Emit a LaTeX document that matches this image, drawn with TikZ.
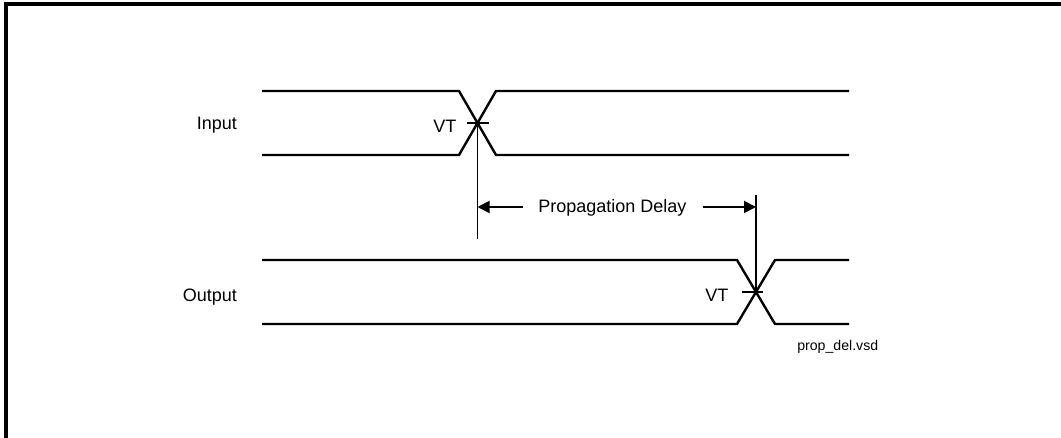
\documentclass[tikz,border=0pt]{standalone}
\usepackage{fontspec}
\setmainfont{Liberation Sans}
\usetikzlibrary{arrows.meta}
\begin{document}
\begin{tikzpicture}[x=0.75pt,y=-0.75pt,
  signal/.style={line width=1.8pt,line join=miter},
  frameline/.style={line width=2.4pt},
  marker/.style={line width=1.4pt},
  dim/.style={line width=1.4pt,-{Triangle[length=9pt,width=9pt]}},
  lbl/.style={inner sep=0pt,anchor=base west,font=\fontsize{13.5}{16}\selectfont},
  small/.style={inner sep=0pt,anchor=base west,font=\fontsize{10.6}{13}\selectfont}]
\useasboundingbox (0,0) rectangle (1061,438);
% frame (left and top edges visible)
\draw[frameline] (6,440) -- (6,4) -- (1063,4);
% Input signal
\coordinate (ic) at (477.5,123);
\draw[signal] (262,91) -- (459,91) -- (496,155) -- (849,155);
\draw[signal] (262,155) -- (459,155) -- (496,91) -- (849,91);
% Output signal
\coordinate (oc) at (756,292);
\draw[signal] (262,260) -- (737,260) -- (775,324) -- (849,324);
\draw[signal] (262,324) -- (737,324) -- (775,260) -- (849,260);
% VT ticks
\coordinate (it1) at (467,123); \coordinate (it2) at (489,123);
\coordinate (ot1) at (742,292); \coordinate (ot2) at (763,292);
\draw[marker] (it1) -- (it2);
\draw[marker] (ot1) -- (ot2);
% vertical markers
\coordinate (ib) at (477.5,239);
\coordinate (ot) at (756,195);
\draw[marker] (ic) -- (ib);
\draw[marker] (ot) -- (oc);
% labels
\node[lbl] (inp) at (196.5,129.5) {Input};
\node[lbl] (outp) at (182.5,302) {Output};
\node[lbl] (vt1) at (433,132.5) {VT};
\node[lbl] (vt2) at (705,302) {VT};
\node[lbl] (pd) at (538,213) {Propagation Delay};
\node[small] (file) at (797,350.5) {prop\_del.vsd};
% dimension arrows
\coordinate (al) at (477.5,207);
\coordinate (ar) at (756,207);
\draw[dim] ([xshift=-11pt]pd.west |- al) -- (al);
\draw[dim] ([xshift=12pt]pd.east |- ar) -- (ar);
\end{tikzpicture}
\end{document}
